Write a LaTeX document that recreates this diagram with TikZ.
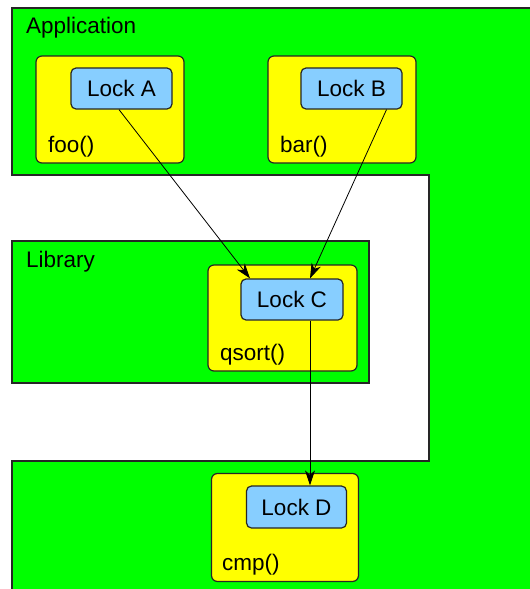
\documentclass[tikz,border=0pt]{standalone}
\usepackage{fontspec}
\setmainfont{Liberation Sans}
\usetikzlibrary{arrows.meta}
\definecolor{layergreen}{RGB}{0,255,0}
\definecolor{funcyellow}{RGB}{255,255,0}
\definecolor{lockblue}{RGB}{135,206,255}

\begin{document}
\begin{tikzpicture}[x=1pt,y=-1pt,
  font=\fontsize{22.5}{26}\selectfont,
  layerbox/.style={draw=black!85,line width=1.2pt,fill=layergreen},
  funcbox/.style={draw=black!85,line width=1.2pt,fill=funcyellow,rounded corners=6pt,inner sep=0pt},
  lockbox/.style={draw=black!85,line width=1.2pt,fill=lockblue,rounded corners=5pt,inner sep=0pt},
  tag/.style={anchor=base west,inner sep=0pt},
  call/.style={-{Stealth[length=15pt,width=10pt,inset=4.5pt]},line width=0.8pt}]
\useasboundingbox (0,0) rectangle (530,589);
\clip (0,0) rectangle (530,589);
% layers
\draw[layerbox] (12,8) -- (545,8) -- (545,600) -- (12,600) -- (12,461)
  -- (429,461) -- (429,175) -- (12,175) -- cycle;
\draw[layerbox] (12,241) rectangle (369,383);
\node[tag] (app) at (26,34) {Application};
\node[tag] (lib) at (26,267) {Library};
% functions
\node[funcbox,minimum width=148pt,minimum height=107pt] (foo) at (110,109.5) {};
\node[funcbox,minimum width=148pt,minimum height=107pt] (bar) at (342,109.5) {};
\node[funcbox,minimum width=149pt,minimum height=106pt] (qsort) at (282.5,318) {};
\node[funcbox,minimum width=147pt,minimum height=108pt] (cmp) at (285,527.5) {};
\node[tag] (fooname) at (48,152) {foo()};
\node[tag] (barname) at (280,152) {bar()};
\node[tag] (qsortname) at (220,360) {qsort()};
\node[tag] (cmpname) at (222,570) {cmp()};
% locks
\node[lockbox,minimum width=101pt,minimum height=41pt] (lockA) at (121.5,88.5) {Lock A};
\node[lockbox,minimum width=101pt,minimum height=41pt] (lockB) at (351.5,88.5) {Lock B};
\node[lockbox,minimum width=102pt,minimum height=41pt] (lockC) at (292,299.5) {Lock C};
\node[lockbox,minimum width=100pt,minimum height=42pt] (lockD) at (296.5,507) {Lock D};
% lock order
\draw[call] ([xshift=-2.5pt]lockA.south) -- ([xshift=-42pt]lockC.north);
\draw[call] ([xshift=35pt]lockB.south) -- ([xshift=18pt]lockC.north);
\draw[call] ([xshift=18pt]lockC.south) -- ([xshift=13.5pt]lockD.north);
\end{tikzpicture}
\end{document}
